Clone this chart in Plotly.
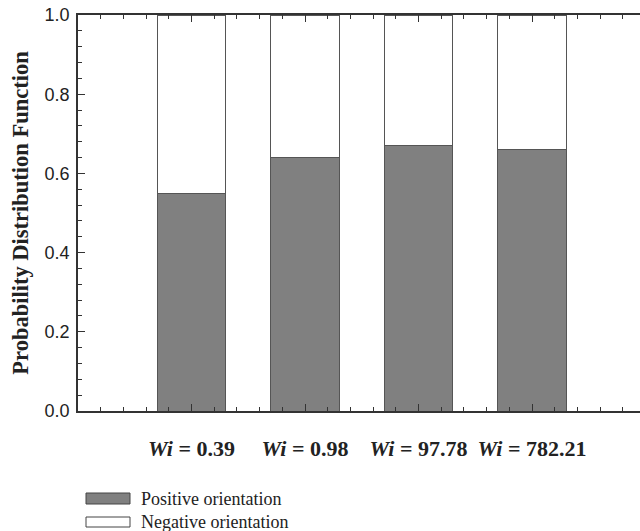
import plotly.graph_objects as go

# Data
wi_labels = ["0.39", "0.98", "97.78", "782.21"]
positions = [1, 2, 3, 4]
positive = [0.55, 0.64, 0.67, 0.66]
negative = [1 - p for p in positive]
series_names = ["Positive orientation", "Negative orientation"]
series_colors = ["#808080", "#ffffff"]

SERIF = "Times New Roman, Liberation Serif, serif"
SANS = "Arial, Liberation Sans, sans-serif"

W, H = 640, 531
ML, MT, MB = 78, 15, 120
plot_w = W - ML
unit_px = 113.5  # pixels per category step
x_max = plot_w / unit_px

fig = go.Figure()
for name, vals, col in zip(series_names, [positive, negative], series_colors):
    fig.add_trace(go.Bar(
        x=positions, y=vals, name=name, width=0.6,
        marker=dict(color=col, line=dict(color="#555555", width=1)),
        showlegend=False,
    ))

tick_text = [f"<b><i>Wi</i> = {v}</b>" for v in wi_labels]

fig.update_layout(
    width=W, height=H,
    margin=dict(l=ML, r=0, t=MT, b=MB),
    barmode="stack",
    plot_bgcolor="white", paper_bgcolor="white",
    xaxis=dict(
        range=[0, x_max], tickmode="array", tickvals=positions, ticktext=tick_text,
        ticks="inside", ticklen=7, tickcolor="#333", tickwidth=1,
        showline=True, linecolor="#333", linewidth=1.5, mirror="ticks",
        showgrid=False, zeroline=False,
        tickfont=dict(family=SERIF, size=22, color="#222"),
        ticklabelstandoff=17,
        minor=dict(tickmode="linear", tick0=0, dtick=0.2, ticks="inside",
                   ticklen=4, tickcolor="#333", showgrid=False),
    ),
    yaxis=dict(
        range=[0, 1], dtick=0.2, tickformat=".1f",
        ticks="inside", ticklen=7, tickcolor="#333", tickwidth=1,
        showline=True, linecolor="#333", linewidth=1.5,
        showgrid=False, zeroline=False,
        tickfont=dict(family=SANS, size=18, color="#222"),
        ticklabelstandoff=3,
        title=dict(text="<b>Probability Distribution Function</b>",
                   font=dict(family=SERIF, size=22.5, color="#222"),
                   standoff=10),
        minor=dict(tickmode="linear", tick0=0, dtick=0.04, ticks="inside",
                   ticklen=4, tickcolor="#333", showgrid=False),
    ),
)

# Legend drawn below the chart
plot_h = H - MT - MB
def py(px_y):
    return (H - MB - px_y) / plot_h
def px(px_x):
    return (px_x - ML) / plot_w

legend_rows = [(493, 504, 499), (517, 527, 522)]
for (top, bot, mid), name, col in zip(legend_rows, series_names, series_colors):
    fig.add_shape(type="rect", xref="paper", yref="paper",
                  x0=px(86), x1=px(130), y0=py(bot), y1=py(top),
                  fillcolor=col, line=dict(color="#444", width=1))
    fig.add_annotation(xref="paper", yref="paper", x=px(139), y=py(mid),
                       text=name, showarrow=False, xanchor="left", yanchor="middle",
                       font=dict(family=SERIF, size=18, color="#222"))

fig.write_html("out.html")
